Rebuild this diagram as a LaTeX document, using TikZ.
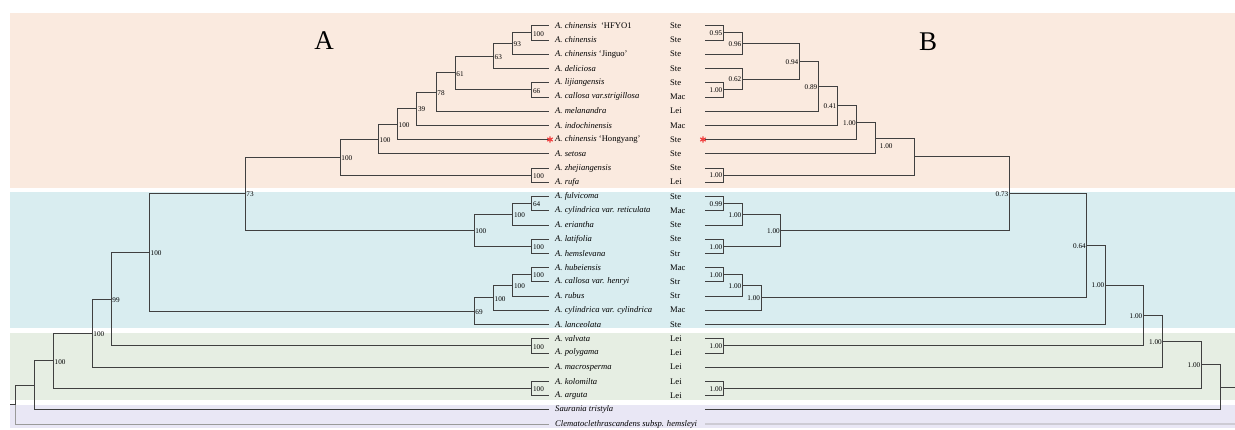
\documentclass[tikz,border=0pt]{standalone}
\usepackage{fontspec}
\setmainfont{Liberation Serif}
\definecolor{bgor}{HTML}{FAEADF}
\definecolor{bgbl}{HTML}{D9EDF0}
\definecolor{bggr}{HTML}{E6EEE3}
\definecolor{bgpu}{HTML}{E9E7F5}
\definecolor{ln}{HTML}{404040}
\definecolor{lnlight}{HTML}{9A9A9A}
\definecolor{starred}{HTML}{F03C3C}
\newcommand\mkclade[3]{\draw[br] (#1) |- (#2) (#1) |- (#3);}
\newcommand\mkstar[1]{\draw[starred, line width=1.1pt]
  ([shift={(90:3.2)}]#1) -- ([shift={(270:3.2)}]#1)
  ([shift={(30:3.2)}]#1) -- ([shift={(210:3.2)}]#1)
  ([shift={(150:3.2)}]#1) -- ([shift={(330:3.2)}]#1);}
\begin{document}
\begin{tikzpicture}[x=1pt,y=-1pt,
  br/.style={draw=ln, line width=0.65pt},
  brl/.style={draw=lnlight, line width=0.65pt},
  leafname/.style={anchor=west, inner sep=0pt, font=\fontsize{8.6}{9}\selectfont\itshape},
  leafcode/.style={anchor=west, inner sep=0pt, font=\fontsize{8.6}{9}\selectfont},
  bsl/.style={anchor=west, inner sep=0pt, xshift=1.2pt, yshift=-1pt, font=\fontsize{7.2}{8}\selectfont},
  bsr/.style={anchor=east, inner sep=0pt, xshift=-0.8pt, yshift=-0.5pt, font=\fontsize{7.2}{8}\selectfont},
  panel/.style={inner sep=0pt, font=\fontsize{27}{30}\selectfont}]
\useasboundingbox (0,0) rectangle (1235,429);
% background bands
\fill[white] (0,0) rectangle (1235,429);
\fill[bgor] (10,12.7) rectangle (1235,188);
\fill[bgbl] (10,191.5) rectangle (1235,328);
\fill[bggr] (10,333) rectangle (1235,400);
\fill[bgpu] (10,404.5) rectangle (1235,428);
% panel letters
\node[panel] (pA) at (324,41) {A};
\node[panel] (pB) at (928,41.5) {B};
% leaves
\foreach \i in {1,...,29}{
  \pgfmathsetmacro\yy{25.7+(\i-1)*14.225}
  \coordinate (L\i) at (549,\yy);
  \coordinate (R\i) at (705,\yy);
  \coordinate (T\i) at (555,\yy);
  \coordinate (C\i) at (670,\yy);
}
% leaf names
\node[leafname] (n1) at (T1) {A. chinensis\upshape\ \ ‘HFYO1};
\node[leafname] (n2) at (T2) {A. chinensis};
\node[leafname] (n3) at (T3) {A. chinensis\upshape\ ‘Jinguo’};
\node[leafname] (n4) at (T4) {A. deliciosa};
\node[leafname] (n5) at (T5) {A. lijiangensis};
\node[leafname] (n6) at (T6) {A. callosa var.strigillosa};
\node[leafname] (n7) at (T7) {A. melanandra};
\node[leafname] (n8) at (T8) {A. indochinensis};
\node[leafname] (n9) at (T9) {A. chinensis\upshape\ ‘Hongyang’};
\node[leafname] (n10) at (T10) {A. setosa};
\node[leafname] (n11) at (T11) {A. zhejiangensis};
\node[leafname] (n12) at (T12) {A. rufa};
\node[leafname] (n13) at (T13) {A. fulvicoma};
\node[leafname] (n14) at (T14) {A. cylindrica var. reticulata};
\node[leafname] (n15) at (T15) {A. eriantha};
\node[leafname] (n16) at (T16) {A. latifolia};
\node[leafname] (n17) at (T17) {A. hemslevana};
\node[leafname] (n18) at (T18) {A. hubeiensis};
\node[leafname] (n19) at (T19) {A. callosa var. henryi};
\node[leafname] (n20) at (T20) {A. rubus};
\node[leafname] (n21) at (T21) {A. cylindrica var. cylindrica};
\node[leafname] (n22) at (T22) {A. lanceolata};
\node[leafname] (n23) at (T23) {A. valvata};
\node[leafname] (n24) at (T24) {A. polygama};
\node[leafname] (n25) at (T25) {A. macrosperma};
\node[leafname] (n26) at (T26) {A. kolomilta};
\node[leafname] (n27) at (T27) {A. arguta};
\node[leafname] (n28) at (T28) {Saurania tristyla};
\node[leafname] (n29) at (T29) {Clematoclethrascandens subsp. hemsleyi};
% region codes
\foreach \i/\c in {1/Ste,2/Ste,3/Ste,4/Ste,5/Ste,6/Mac,7/Lei,8/Mac,9/Ste,10/Ste,11/Ste,12/Lei,
  13/Ste,14/Mac,15/Ste,16/Ste,17/Str,18/Mac,19/Str,20/Str,21/Mac,22/Ste,
  23/Lei,24/Lei,25/Lei,26/Lei,27/Lei}{
  \node[leafcode] (code\i) at (C\i) {\c};
}
% ---------------- left tree (A) ----------------
\coordinate (a1) at (531.7,32.8);
\coordinate (a2) at (512.3,43.5);
\coordinate (a3) at (493.3,55.95);
\coordinate (a4) at (531.7,89.7);
\coordinate (a5) at (455,72.8);
\coordinate (a6) at (436,91.9);
\coordinate (a7) at (416.7,108.6);
\coordinate (a8) at (397.3,124.05);
\coordinate (a9) at (378.3,138.9);
\coordinate (a10) at (531.7,175.1);
\coordinate (a11) at (340,157.0);
\coordinate (b1) at (531.7,203.5);
\coordinate (b2) at (512.7,214.2);
\coordinate (b3) at (531.7,246.2);
\coordinate (b4) at (474,230.2);
\coordinate (b5) at (531.7,274.6);
\coordinate (b6) at (512.7,285.3);
\coordinate (b7) at (493.3,297.75);
\coordinate (b8) at (474,311.1);
\coordinate (c0) at (245,193.6);
\coordinate (c1) at (149.3,252.35);
\coordinate (g1) at (531.7,345.8);
\coordinate (g2) at (111,299.1);
\coordinate (g3) at (92,333.1);
\coordinate (g4) at (531.7,388.4);
\coordinate (g5) at (53.3,360.75);
\coordinate (r1) at (34.7,385.3);
\coordinate (r0) at (15.7,404.65);
\coordinate (lroot) at (10,404.65);
\mkclade{a1}{L1}{L2}
\mkclade{a2}{a1}{L3}
\mkclade{a3}{a2}{L4}
\mkclade{a4}{L5}{L6}
\mkclade{a5}{a3}{a4}
\mkclade{a6}{a5}{L7}
\mkclade{a7}{a6}{L8}
\mkclade{a8}{a7}{L9}
\mkclade{a9}{a8}{L10}
\mkclade{a10}{L11}{L12}
\mkclade{a11}{a9}{a10}
\mkclade{b1}{L13}{L14}
\mkclade{b2}{b1}{L15}
\mkclade{b3}{L16}{L17}
\mkclade{b4}{b2}{b3}
\mkclade{b5}{L18}{L19}
\mkclade{b6}{b5}{L20}
\mkclade{b7}{b6}{L21}
\mkclade{b8}{b7}{L22}
\mkclade{c0}{a11}{b4}
\mkclade{c1}{c0}{b8}
\mkclade{g1}{L23}{L24}
\mkclade{g2}{c1}{g1}
\mkclade{g3}{g2}{L25}
\mkclade{g4}{L26}{L27}
\mkclade{g5}{g3}{g4}
\mkclade{r1}{g5}{L28}
\draw[br] (r0) |- (r1);
\draw[brl] (r0) |- (L29);
\draw[br] (lroot) -- (r0);
% left support values
\foreach \n/\v in {a1/100,a2/93,a3/63,a4/66,a5/61,a6/78,a7/39,a8/100,a9/100,a10/100,a11/100,
  b1/64,b2/100,b3/100,b4/100,b5/100,b6/100,b7/100,b8/69,c0/73,c1/100,
  g1/100,g2/99,g3/100,g4/100,g5/100}{
  \node[bsl] (lab\n) at (\n) {\v};
}
% ---------------- right tree (B) ----------------
\coordinate (p1) at (723.3,32.8);
\coordinate (p2) at (742.3,43.5);
\coordinate (p3) at (723.3,89.7);
\coordinate (p4) at (742.3,79.05);
\coordinate (p5) at (799.3,61.3);
\coordinate (p6) at (818.3,86.2);
\coordinate (p7) at (837.3,105.75);
\coordinate (p8) at (856.7,122.6);
\coordinate (p9) at (875.7,138.15);
\coordinate (p10) at (723.3,175.1);
\coordinate (p11) at (914,156.6);
\coordinate (q1) at (723.3,203.5);
\coordinate (q2) at (742.3,214.2);
\coordinate (q3) at (723.3,246.2);
\coordinate (q4) at (780.7,230.2);
\coordinate (q5) at (723.3,274.6);
\coordinate (q6) at (742.3,285.3);
\coordinate (q7) at (761,297.75);
\coordinate (s0) at (1009.3,193.4);
\coordinate (s1) at (1086.7,245.6);
\coordinate (s2) at (1105.3,285.0);
\coordinate (h1) at (723.3,345.8);
\coordinate (s3) at (1143.3,315.4);
\coordinate (s4) at (1162.7,341.25);
\coordinate (h2) at (723.3,388.4);
\coordinate (s5) at (1201.3,364.8);
\coordinate (s6) at (1220,387.3);
\coordinate (rroot) at (1235,387.3);
\coordinate (rclem) at (1235,424);
\mkclade{p1}{R1}{R2}
\mkclade{p2}{p1}{R3}
\mkclade{p3}{R5}{R6}
\mkclade{p4}{R4}{p3}
\mkclade{p5}{p2}{p4}
\mkclade{p6}{p5}{R7}
\mkclade{p7}{p6}{R8}
\mkclade{p8}{p7}{R9}
\mkclade{p9}{p8}{R10}
\mkclade{p10}{R11}{R12}
\mkclade{p11}{p9}{p10}
\mkclade{q1}{R13}{R14}
\mkclade{q2}{q1}{R15}
\mkclade{q3}{R16}{R17}
\mkclade{q4}{q2}{q3}
\mkclade{q5}{R18}{R19}
\mkclade{q6}{q5}{R20}
\mkclade{q7}{q6}{R21}
\mkclade{s0}{p11}{q4}
\mkclade{s1}{s0}{q7}
\mkclade{s2}{s1}{R22}
\mkclade{h1}{R23}{R24}
\mkclade{s3}{s2}{h1}
\mkclade{s4}{s3}{R25}
\mkclade{h2}{R26}{R27}
\mkclade{s5}{s4}{h2}
\mkclade{s6}{s5}{R28}
\draw[br] (s6) -- (rroot);
\draw[brl] (R29) -- (rclem);
% right support values
\foreach \n/\v in {p1/0.95,p2/0.96,p3/1.00,p4/0.62,p5/0.94,p6/0.89,p7/0.41,p8/1.00,p10/1.00,
  q1/0.99,q2/1.00,q3/1.00,q4/1.00,q5/1.00,q6/1.00,q7/1.00,
  s0/0.73,s1/0.64,s2/1.00,h1/1.00,s3/1.00,s4/1.00,h2/1.00,s5/1.00}{
  \node[bsr] (lab\n) at (\n) {\v};
}
\node[anchor=north west, inner sep=0pt, font=\fontsize{7.2}{8}\selectfont] (labp9) at ([xshift=4pt,yshift=-5pt]p9) {1.00};
% red stars for 'Hongyang'
\coordinate (starL) at (550,139.5);
\coordinate (starR) at (703,139.5);
\mkstar{starL}
\mkstar{starR}
\end{tikzpicture}
\end{document}
